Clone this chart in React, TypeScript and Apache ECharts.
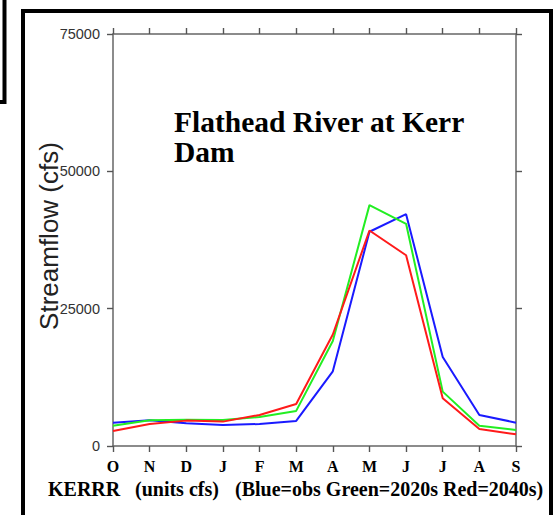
import React, { useEffect, useRef } from "react";
import * as echarts from "echarts";

const months = ["O", "N", "D", "J", "F", "M", "A", "M", "J", "J", "A", "S"];
const obsBlue = [4250, 4700, 4140, 3830, 4000, 4560, 13600, 39000, 42200, 16200, 5650, 4250];
const green2020s = [3700, 4700, 4800, 4740, 5290, 6390, 19100, 43850, 40450, 9900, 3700, 2920];
const red2040s = [2740, 4000, 4620, 4440, 5650, 7660, 20300, 39230, 34730, 8700, 3100, 2130];
const yTicks = { min: 0, max: 75000, interval: 25000 };

const titleLines = ["Flathead River at Kerr", "Dam"];
const yName = "Streamflow (cfs)";
const footerParts = ["KERRR", "(units cfs)", "(Blue=obs Green=2020s Red=2040s)"];

export default function App() {
  const ref = useRef<HTMLDivElement>(null);
  useEffect(() => {
    if (!ref.current) return;
    const chart = echarts.init(ref.current, null, { renderer: "svg" });
    const axisColor = "#666";
    const tickColor = "#555";
    const serif = "Liberation Serif";
    const sans = "Liberation Sans";
    const line = (name: string, data: number[], color: string) => ({
      name,
      type: "line",
      data,
      xAxisIndex: 0,
      yAxisIndex: 0,
      symbol: "none",
      lineStyle: { color, width: 2 },
      itemStyle: { color },
      z: 3,
    });
    const tick = { show: true, inside: false, length: 6, lineStyle: { color: tickColor, width: 1.4 } };
    chart.setOption({
      animation: false,
      backgroundColor: "#fff",
      grid: { left: 113, right: 39, top: 34, bottom: 69, containLabel: false },
      xAxis: [
        {
          type: "category",
          data: months,
          boundaryGap: false,
          position: "bottom",
          axisLine: { show: true, onZero: false, lineStyle: { color: axisColor, width: 1.5 } },
          axisTick: { ...tick, interval: 0 },
          axisLabel: { color: "#000", fontFamily: serif, fontWeight: "bold", fontSize: 16, margin: 12, interval: 0 },
          splitLine: { show: false },
        },
        {
          type: "value",
          min: 0,
          max: months.length - 1,
          interval: 1,
          position: "top",
          axisLine: { show: true, onZero: false, lineStyle: { color: axisColor, width: 1.5 } },
          axisTick: tick,
          axisLabel: { show: false },
          splitLine: { show: false },
        },
      ],
      yAxis: [
        {
          type: "value",
          min: yTicks.min,
          max: yTicks.max,
          interval: yTicks.interval,
          position: "left",
          axisLine: { show: true, onZero: false, lineStyle: { color: axisColor, width: 1.5 } },
          axisTick: tick,
          axisLabel: { color: "#333", fontFamily: sans, fontSize: 14.5, margin: 13, formatter: (v: number) => String(v) },
          splitLine: { show: false },
        },
        {
          type: "value",
          min: yTicks.min,
          max: yTicks.max,
          interval: yTicks.interval,
          position: "right",
          axisLine: { show: true, onZero: false, lineStyle: { color: axisColor, width: 1.5 } },
          axisTick: tick,
          axisLabel: { show: false },
          splitLine: { show: false },
        },
      ],
      series: [
        line("obs", obsBlue, "#1a1aff"),
        line("2020s", green2020s, "#22ee22"),
        line("2040s", red2040s, "#ff1a1a"),
      ],
      graphic: [
        {
          type: "rect",
          silent: true,
          shape: { x: 23, y: 11, width: 528, height: 540 },
          style: { fill: "none", stroke: "#000", lineWidth: 4 },
          z: 10,
        },
        {
          type: "polyline",
          silent: true,
          shape: { points: [[0, 102], [4.5, 102], [4.5, 0]] },
          style: { fill: "none", stroke: "#000", lineWidth: 4 },
          z: 10,
        },
        {
          type: "text",
          x: 174,
          y: 122,
          style: { text: titleLines[0], fontFamily: serif, fontWeight: "bold", fontSize: 29.5, fill: "#000", align: "left", verticalAlign: "middle" },
          z: 10,
        },
        {
          type: "text",
          x: 174,
          y: 152,
          style: { text: titleLines[1], fontFamily: serif, fontWeight: "bold", fontSize: 29.5, fill: "#000", align: "left", verticalAlign: "middle" },
          z: 10,
        },
        {
          type: "text",
          x: 48.5,
          y: 236,
          rotation: Math.PI / 2,
          style: { text: yName, fontFamily: sans, fontSize: 26, fill: "#222", align: "center", verticalAlign: "middle" },
          z: 10,
        },
        {
          type: "text",
          x: 48,
          y: 489,
          style: { text: footerParts[0], fontFamily: serif, fontWeight: "bold", fontSize: 20, fill: "#000", align: "left", verticalAlign: "middle" },
          z: 10,
        },
        {
          type: "text",
          x: 135,
          y: 489,
          style: { text: footerParts[1], fontFamily: serif, fontWeight: "bold", fontSize: 20, fill: "#000", align: "left", verticalAlign: "middle" },
          z: 10,
        },
        {
          type: "text",
          x: 235,
          y: 489,
          style: { text: footerParts[2], fontFamily: serif, fontWeight: "bold", fontSize: 20, fill: "#000", align: "left", verticalAlign: "middle" },
          z: 10,
        },
      ],
    });
    return () => chart.dispose();
  }, []);
  return (
    <div
      ref={ref}
      style={{ width: 555, height: 515, position: "fixed", left: 0, top: 0, background: "#fff" }}
    />
  );
}
